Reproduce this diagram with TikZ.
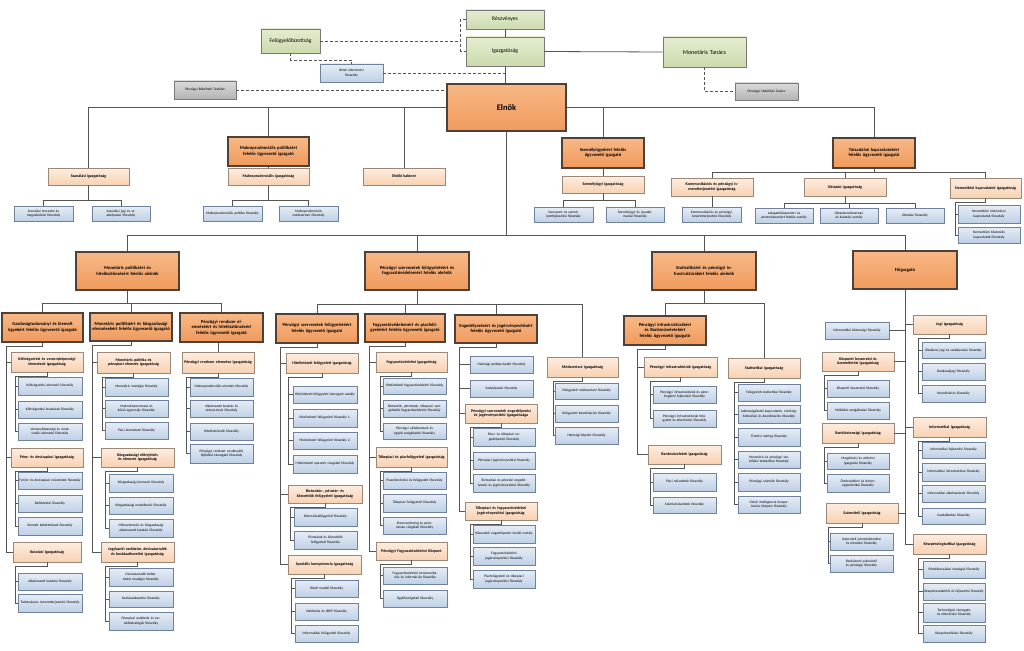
\documentclass[tikz,border=0pt]{standalone}
\usepackage{fontspec}
\setmainfont{Carlito}
\usetikzlibrary{shadows}
\definecolor{cLn}{HTML}{555555}
\definecolor{cDash}{HTML}{555555}
\definecolor{oTop}{HTML}{F8B886}
\definecolor{oBot}{HTML}{F09A5C}
\definecolor{oBrd}{HTML}{4F4038}
\definecolor{pTop}{HTML}{FDEDE0}
\definecolor{pBot}{HTML}{F8D1B2}
\definecolor{pBrd}{HTML}{9C8878}
\definecolor{bTop}{HTML}{E6EDF6}
\definecolor{bBot}{HTML}{BFD0E6}
\definecolor{bBrd}{HTML}{6F819B}
\definecolor{gTop}{HTML}{E4EDD0}
\definecolor{gBot}{HTML}{CCDAAD}
\definecolor{gBrd}{HTML}{7A7A7A}
\definecolor{yTop}{HTML}{DADADA}
\definecolor{yBot}{HTML}{B4B4B4}
\tikzset{
  shd/.style={drop shadow={shadow xshift=0.8pt,shadow yshift=-0.8pt,opacity=0.3}},
  boxbase/.style={shd, align=center, inner xsep=0pt, inner ysep=0pt, line width=0.6pt},
  grn/.style={boxbase, top color=gTop, bottom color=gBot, draw=gBrd, font=\fontsize{5.6}{6.6}\selectfont},
  gry/.style={boxbase, top color=yTop, bottom color=yBot, draw=gBrd, font=\fontsize{3.5}{4.2}\selectfont},
  boss/.style={boxbase, top color=oTop, bottom color=oBot, draw=oBrd, line width=1.2pt, font=\fontsize{8.5}{9.5}\selectfont\bfseries},
  org/.style={boxbase, top color=oTop, bottom color=oBot, draw=oBrd, line width=1.2pt, font=\fontsize{4.6}{5.5}\selectfont\bfseries},
  pch/.style={boxbase, top color=pTop, bottom color=pBot, draw=pBrd, font=\fontsize{4}{4.8}\selectfont\bfseries},
  blu/.style={boxbase, top color=bTop, bottom color=bBot, draw=bBrd, font=\fontsize{3.55}{4.2}\selectfont},
  ln/.style={draw=cLn, line width=0.8pt},
  dl/.style={draw=cDash, line width=0.8pt, dash pattern=on 3pt off 2pt}
}
\newcommand\bx[7]{%
  \pgfmathsetmacro\bw{#4-#2}%
  \pgfmathsetmacro\bh{#5-#3}%
  \pgfmathsetmacro\btw{#4-#2-2.5}%
  \node[#6, minimum width=\bw pt, minimum height=\bh pt, text width=\btw pt] (#1) at ({(#2+#4)/2},{(#3+#5)/2}) {#7};}
\newcommand\spine[3]{%
  \coordinate (sp) at (#2,0);%
  \foreach \c in {#3}{\draw[ln] (#1.south) -- ++(0,4) -| (sp |- \c.west) -- (\c.west);}}
\newcommand\bus[3]{%
  \foreach \c in {#3}{\draw[ln] (#1.south) -- ++(0,#2) -| (\c.north);}}
\begin{document}
\begin{tikzpicture}[x=1pt,y=-1pt]
\fill[white] (0,0) rectangle (1024,650);
\useasboundingbox (0,0) rectangle (1024,650);

% ---------- top
\bx{resz}{466}{10}{544}{29}{grn}{Részvényes}
\bx{igaz}{466}{37}{544}{66}{grn}{Igazgatóság}
\bx{fb}{261}{29}{320}{53}{grn}{Felügyelőbizottság}
\bx{mt}{663}{37}{746}{67}{grn}{\fontsize{6}{7}\selectfont Monetáris Tanács}
\bx{belso}{320}{64}{383}{82}{blu}{Belső ellenőrzési\\főosztály}
\bx{pbt}{174}{81}{236}{99}{gry}{Pénzügyi Békéltető Testület}
\bx{pst}{735}{83}{798}{100}{gry}{Pénzügyi Stabilitási Tanács}

% ---------- row 2
\bx{szan}{48}{168}{129}{185}{pch}{Szanálási igazgatóság}
\bx{szan1}{14}{206}{73}{221}{blu}{Szanálási tervezési és megvalósítási főosztály}
\bx{szan2}{92}{206}{150}{221}{blu}{Szanálási jogi és szabályozási főosztály}
\bx{mpu}{228}{137}{309}{166}{org}{Makroprudenciális politikáért felelős ügyvezető igazgató}
\bx{mpi}{228}{168}{309}{185}{pch}{Makroprudenciális igazgatóság}
\bx{mp1}{203}{206}{262}{221}{blu}{Makroprudenciális politika főosztály}
\bx{mp2}{279}{206}{338}{221}{blu}{Makroprudenciális módszertani főosztály}
\bx{ek}{363}{168}{445}{185}{pch}{Elnöki kabinet}
\bx{szu}{562}{138}{644}{168}{org}{Személyügyekért felelős ügyvezető igazgató}
\bx{szi}{562}{176}{644}{193}{pch}{Személyügyi igazgatóság}
\bx{sz1}{534}{207}{593}{222}{blu}{Szervezet- és személyzetfejlesztési főosztály}
\bx{sz2}{606}{207}{664}{222}{blu}{Személyügyi és javadalmazási főosztály}
\bx{tku}{833}{138}{915}{168}{org}{Társadalmi kapcsolatokért felelős ügyvezető igazgató}
\bx{kom}{671}{178}{753}{196}{pch}{Kommunikációs és pénzügyi ismeretterjesztési igazgatóság}
\bx{kom1}{682}{207}{741}{222}{blu}{Kommunikációs és pénzügyi ismeretterjesztési főosztály}
\bx{okt}{804}{178}{886}{196}{pch}{Oktatási igazgatóság}
\bx{okt1}{755}{208}{813}{223}{blu}{Látogatóközpontért és pénzmúzeumért felelős osztály}
\bx{okt2}{820}{208}{878}{223}{blu}{Oktatásmódszertani és kutatási osztály}
\bx{okt3}{886}{208}{944}{223}{blu}{Oktatási főosztály}
\bx{nk}{950}{178}{1021}{198}{pch}{Nemzetközi kapcsolatok igazgatóság}
\bx{nk1}{958}{205}{1020}{223}{blu}{Nemzetközi intézményi kapcsolatok főosztály}
\bx{nk2}{958}{227}{1020}{243}{blu}{Nemzetközi bilaterális kapcsolatok főosztály}

% ---------- row 3
\bx{amon}{76}{252}{179}{290}{org}{Monetáris politikáért és hitelösztönzésért felelős alelnök}
\bx{apsz}{365}{252}{469}{290}{org}{Pénzügyi szervezetek felügyeletéért és fogyasztóvédelemért felelős alelnök}
\bx{astat}{652}{252}{756}{290}{org}{Statisztikáért és pénzügyi infrastruktúrákért felelős alelnök}
\bx{fo}{853}{251}{957}{289}{org}{Főigazgató}

% ---------- Monetáris alelnök
\bx{gazu}{2}{313}{83}{342}{org}{Gazdaságtudományi és kiemelt ügyekért felelős ügyvezető igazgató}
\bx{kvi}{11}{352}{83}{372}{pch}{Költségvetési és versenyképességi elemzések igazgatóság}
\bx{kv1}{18}{377}{82}{395}{blu}{Költségvetési elemzési főosztály}
\bx{kv2}{18}{401}{82}{418}{blu}{Költségvetési kutatások főosztály}
\bx{kv3}{18}{423}{82}{440}{blu}{Versenyképességi és strukturális elemzési főosztály}
\bx{pdi}{11}{448}{83}{467}{pch}{Pénz- és devizapiaci igazgatóság}
\bx{pd1}{18}{472}{82}{489}{blu}{Forint- és devizapiaci műveletek főosztály}
\bx{pd2}{18}{495}{82}{512}{blu}{Befektetési főosztály}
\bx{pd3}{18}{517}{82}{535}{blu}{Kiemelt befektetések főosztály}
\bx{kti}{13}{542}{81}{562}{pch}{Kutatási igazgatóság}
\bx{kt1}{18}{573}{82}{590}{blu}{Alkalmazott kutatási főosztály}
\bx{kt2}{18}{594}{82}{612}{blu}{Tudományos ismeretterjesztési főosztály}

\bx{monu}{90}{313}{172}{341}{org}{Monetáris politikáért és közgazdasági elemzésekért felelős ügyvezető igazgató}
\bx{mpe}{97}{352}{170}{373}{pch}{Monetáris politika és pénzpiaci elemzés igazgatóság}
\bx{mpe1}{105}{378}{168}{396}{blu}{Monetáris stratégia főosztály}
\bx{mpe2}{105}{400}{168}{417}{blu}{Makrofinanszírozás és külső egyensúly főosztály}
\bx{mpe3}{105}{422}{168}{439}{blu}{Piaci elemzések főosztály}
\bx{kge}{101}{448}{174}{467}{pch}{Közgazdasági előrejelzés és elemzés igazgatóság}
\bx{kge1}{109}{474}{173}{492}{blu}{Közgazdasági elemzési főosztály}
\bx{kge2}{109}{497}{173}{514}{blu}{Közgazdasági modellezési főosztály}
\bx{kge3}{109}{519}{173}{537}{blu}{Mikroelemzési és közgazdasági alkalmazott kutatási főosztály}
\bx{jbe}{101}{542}{174}{562}{pch}{Jegybanki eszköztár, devizatartalék és kockázatkezelési igazgatóság}
\bx{jbe1}{109}{568}{173}{586}{blu}{Devizatartalék befektetési stratégia főosztály}
\bx{jbe2}{109}{591}{173}{607}{blu}{Kockázatkezelési főosztály}
\bx{jbe3}{109}{612}{173}{630}{blu}{Pénzpiaci eszköztár és tartalékstratégiai főosztály}

\bx{pru}{180}{313}{263}{342}{org}{Pénzügyi rendszer elemzéséért és hitelösztönzésért felelős ügyvezető igazgató}
\bx{pri}{182}{352}{254}{373}{pch}{Pénzügyi rendszer elemzése igazgatóság}
\bx{pr1}{190}{378}{253}{396}{blu}{Makroprudenciális elemzés főosztály}
\bx{pr2}{190}{400}{253}{417}{blu}{Alkalmazott kutatás és stressz-teszt főosztály}
\bx{pr3}{190}{423}{253}{440}{blu}{Hitelösztönzők főosztály}
\bx{pr4}{190}{444}{253}{463}{blu}{Pénzügyi rendszer strukturális fejlődést támogató főosztály}

% ---------- PSZ alelnök
\bx{pszu}{276}{314}{358}{343}{org}{Pénzügyi szervezetek felügyeletéért felelős ügyvezető igazgató}
\bx{hfi}{286}{353}{358}{373}{pch}{Hitelintézeti felügyeleti igazgatóság}
\bx{hf1}{293}{386}{357}{403}{blu}{Hitelintézeti felügyeleti támogató osztály}
\bx{hf2}{293}{409}{357}{427}{blu}{Hitelintézeti felügyeleti főosztály 1.}
\bx{hf3}{293}{432}{357}{449}{blu}{Hitelintézeti felügyeleti főosztály 2.}
\bx{hf4}{293}{455}{357}{473}{blu}{Hitelintézeti operatív vizsgálati főosztály}
\bx{bpk}{288}{485}{362}{503}{pch}{Biztosítás-, pénztár- és közvetítők felügyeleti igazgatóság}
\bx{bpk1}{294}{508}{357}{526}{blu}{Biztosításfelügyeleti főosztály}
\bx{bpk2}{294}{531}{357}{549}{blu}{Pénztárak és közvetítők felügyeleti főosztály}
\bx{ski}{288}{555}{361}{574}{pch}{Speciális kompetencia igazgatóság}
\bx{sk1}{295}{580}{358}{597}{blu}{Üzleti modell főosztály}
\bx{sk2}{295}{603}{358}{620}{blu}{Validációs és SREP főosztály}
\bx{sk3}{295}{625}{358}{642}{blu}{Informatikai felügyeleti főosztály}

\bx{fvu}{365}{314}{445}{342}{org}{Fogyasztóvédelemért és piacfelügyeletért felelős ügyvezető igazgató}
\bx{fvi}{376}{352}{447}{372}{pch}{Fogyasztóvédelmi igazgatóság}
\bx{fv1}{383}{378}{446}{394}{blu}{Hitelintézeti fogyasztóvédelmi főosztály}
\bx{fv2}{383}{400}{446}{417}{blu}{Biztosítók, pénztárak, tőkepiaci szolgáltatók fogyasztóvédelmi főosztály}
\bx{fv3}{383}{423}{446}{439}{blu}{Pénzügyi vállalkozások és egyéb szolgáltatók főosztály}
\bx{tpi}{376}{447}{447}{467}{pch}{Tőkepiaci és piacfelügyeleti igazgatóság}
\bx{tp1}{383}{472}{446}{489}{blu}{Piacellenőrzési és felügyeleti főosztály}
\bx{tp2}{383}{494}{446}{512}{blu}{Tőkepiaci felügyeleti főosztály}
\bx{tp3}{383}{517}{446}{534}{blu}{Piacmonitoring és pénzmosás vizsgálati főosztály}
\bx{pfk}{376}{542}{447}{560}{pch}{Pénzügyi Fogyasztóvédelmi Központ}
\bx{pf1}{383}{567}{447}{584}{blu}{Fogyasztóvédelmi kommunikációs és információs főosztály}
\bx{pf2}{383}{590}{447}{607}{blu}{Ügyfélszolgálati főosztály}

\bx{engu}{455}{315}{537}{343}{org}{Engedélyezésért és jogérvényesítésért felelős ügyvezető igazgató}
\bx{eng1}{470}{356}{533}{373}{blu}{Hatósági perképviseleti főosztály}
\bx{eng2}{470}{380}{533}{397}{blu}{Szabályozási főosztály}
\bx{pse}{465}{404}{537}{423}{pch}{Pénzügyi szervezetek engedélyezési és jogérvényesítési igazgatósága}
\bx{pse1}{473}{428}{535}{446}{blu}{Pénz- és tőkepiaci engedélyezési főosztály}
\bx{pse2}{473}{452}{535}{469}{blu}{Pénzpiaci jogérvényesítési főosztály}
\bx{pse3}{473}{474}{535}{492}{blu}{Biztosítási és pénztári engedélyezési és jogérvényesítési főosztály}
\bx{tfj}{465}{502}{537}{520}{pch}{Tőkepiaci és fogyasztóvédelmi jogérvényesítési igazgatóság}
\bx{tfj1}{473}{525}{535}{543}{blu}{Kibocsátói engedélyezési önálló osztály}
\bx{tfj2}{473}{547}{535}{565}{blu}{Fogyasztóvédelmi jogérvényesítési főosztály}
\bx{tfj3}{473}{570}{535}{588}{blu}{Piacfelügyeleti és tőkepiaci jogérvényesítési főosztály}

\bx{msz}{547}{357}{618}{377}{pch}{Módszertani igazgatóság}
\bx{msz1}{555}{383}{618}{399}{blu}{Felügyeleti módszertani főosztály}
\bx{msz2}{555}{405}{618}{422}{blu}{Felügyeleti koordinációs főosztály}
\bx{msz3}{555}{427}{618}{444}{blu}{Hatósági képzési főosztály}

% ---------- Statisztikai alelnök
\bx{piu}{624}{316}{706}{345}{org}{Pénzügyi infrastruktúrákért és Bankműveletekért felelős ügyvezető igazgató}
\bx{pii}{644}{357}{717}{377}{pch}{Pénzügyi infrastruktúrák igazgatóság}
\bx{pii1}{653}{386}{716}{403}{blu}{Pénzügyi infrastruktúrák és pénzforgalmi fejlesztési főosztály}
\bx{pii2}{653}{410}{716}{427}{blu}{Pénzügyi infrastruktúrák felügyelet és ellenőrzési főosztály}
\bx{bmi}{648}{445}{721}{464}{pch}{Bankműveletek igazgatóság}
\bx{bmi1}{653}{473}{716}{491}{blu}{Piaci műveletek főosztály}
\bx{bmi2}{653}{497}{716}{513}{blu}{Számlaműveletek főosztály}
\bx{sti}{728}{358}{800}{378}{pch}{Statisztikai igazgatóság}
\bx{st1}{738}{384}{800}{401}{blu}{Felügyeleti statisztikai főosztály}
\bx{st2}{738}{405}{800}{423}{blu}{Adatszolgáltatói kapcsolatok, minőségbiztosítási és koordinációs főosztály}
\bx{st3}{738}{428}{800}{446}{blu}{Fizetési mérleg főosztály}
\bx{st4}{738}{451}{800}{468}{blu}{Monetáris és pénzügyi stabilitási statisztikai főosztály}
\bx{st5}{738}{473}{800}{491}{blu}{Pénzügyi számlák főosztály}
\bx{st6}{738}{496}{800}{513}{blu}{Üzleti intelligencia kompetencia központ főosztály}

% ---------- Főigazgató
\bx{jogi}{913}{315}{986}{334}{pch}{Jogi igazgatóság}
\bx{jogi1}{922}{342}{985}{358}{blu}{Általános jogi és szabályozási főosztály}
\bx{jogi2}{922}{363}{985}{380}{blu}{Bankszakjogi főosztály}
\bx{jogi3}{922}{385}{985}{402}{blu}{Koordinációs főosztály}
\bx{ibf}{825}{322}{889}{339}{blu}{Informatikai biztonsági főosztály}
\bx{kbu}{822}{352}{894}{371}{pch}{Központi beszerzési és üzemeltetési igazgatóság}
\bx{kbu1}{827}{380}{889}{397}{blu}{Központi beszerzési főosztály}
\bx{kbu2}{827}{402}{889}{419}{blu}{Működés szolgáltatási főosztály}
\bx{bbi}{822}{423}{894}{443}{pch}{Bankbiztonsági igazgatóság}
\bx{bbi1}{827}{453}{889}{469}{blu}{Megelőzési és védelmi igazgatási főosztály}
\bx{bbi2}{827}{474}{889}{492}{blu}{Őrzésvédelmi és biztonságtechnikai főosztály}
\bx{ifi}{913}{417}{986}{437}{pch}{Informatikai igazgatóság}
\bx{ifi1}{922}{442}{985}{458}{blu}{Informatikai fejlesztési főosztály}
\bx{ifi2}{922}{463}{985}{481}{blu}{Informatikai infrastruktúra főosztály}
\bx{ifi3}{922}{485}{985}{502}{blu}{Informatikai alkalmazások főosztály}
\bx{ifi4}{922}{508}{985}{524}{blu}{Gazdálkodási főosztály}
\bx{szv}{826}{503}{898}{523}{pch}{Számviteli igazgatóság}
\bx{szv1}{830}{533}{893}{550}{blu}{Számviteli jelentéskészítési és elemzési főosztály}
\bx{szv2}{830}{555}{893}{572}{blu}{Banküzemi számviteli és pénzügyi főosztály}
\bx{kpl}{913}{534}{986}{554}{pch}{Készpénzlogisztikai igazgatóság}
\bx{kpl1}{923}{561}{985}{578}{blu}{Pénzkibocsátási stratégiai főosztály}
\bx{kpl2}{923}{583}{985}{600}{blu}{Készpénzszakértői és fejlesztési főosztály}
\bx{kpl3}{923}{603}{985}{622}{blu}{Technológiai támogató és ellenőrzési főosztály}
\bx{kpl4}{923}{625}{985}{642}{blu}{Készpénzellátási főosztály}

% ================= connectors =================
% top
\draw[ln] (resz.south) -- (igaz.north);
\draw[ln] (igaz.east) -- (mt.west);
\draw[dl] (resz.west) -- ++(-5,0) coordinate (brk) |- (igaz.west);
\draw[dl] (fb.east) -- (fb.east -| brk);
\draw[dl] (fb.south) -- ++(0,7) -| (belso.north);
\draw[dl] (mt.south) |- (pst.west);

\bx{elnok}{447}{84}{566}{131}{boss}{Elnök}
\draw[ln] (igaz.south) -- (igaz.south |- elnok.north);
\draw[dl] (belso.east) -- (belso.east -| igaz.south);
\draw[dl] (pbt.east) -- (pbt.east -| elnok.west);

% Elnök bus
\foreach \c in {szan,mpu,ek}{\draw[ln] (elnok.west) -| (\c.north);}
\foreach \c in {szu,tku}{\draw[ln] (elnok.east) -| (\c.north);}
\bus{szan}{15}{szan1,szan2}
\draw[ln] (mpu.south) -- (mpi.north);
\bus{mpi}{15}{mp1,mp2}
\draw[ln] (szu.south) -- (szi.north);
\bus{szi}{7}{sz1,sz2}
\bus{tku}{4}{kom,okt,nk}
\draw[ln] (kom.south) -- (kom.south |- kom1.north);
\bus{okt}{7}{okt1,okt2,okt3}
\spine{nk}{955}{nk1,nk2}

% lower bus
\bus{elnok}{104}{amon,apsz,astat,fo}
\bus{amon}{13}{gazu,monu,pru}
\bus{apsz}{14}{pszu,fvu,engu,msz}
\bus{astat}{13}{piu,sti}

% Monetáris
\spine{gazu}{6}{kvi,pdi,kti}
\spine{kvi}{15}{kv1,kv2,kv3}
\spine{pdi}{15}{pd1,pd2,pd3}
\spine{kti}{15}{kt1,kt2}
\spine{monu}{92}{mpe,kge,jbe}
\spine{mpe}{102}{mpe1,mpe2,mpe3}
\spine{kge}{105}{kge1,kge2,kge3}
\spine{jbe}{105}{jbe1,jbe2,jbe3}
\draw[ln] (pri.north) -- (pri.north |- pru.south);
\spine{pri}{186}{pr1,pr2,pr3,pr4}

% PSZ
\spine{pszu}{280}{hfi,bpk,ski}
\spine{hfi}{288}{hf1,hf2,hf3,hf4}
\spine{bpk}{290}{bpk1,bpk2}
\spine{ski}{291}{sk1,sk2,sk3}
\spine{fvu}{369}{fvi,tpi,pfk}
\spine{fvi}{380}{fv1,fv2,fv3}
\spine{tpi}{380}{tp1,tp2,tp3}
\spine{pfk}{380}{pf1,pf2}
\spine{engu}{459}{eng1,eng2,pse,tfj}
\spine{pse}{470}{pse1,pse2,pse3}
\spine{tfj}{470}{tfj1,tfj2,tfj3}
\spine{msz}{553}{msz1,msz2,msz3}

% Statisztika
\spine{piu}{637}{pii,bmi}
\spine{pii}{650}{pii1,pii2}
\spine{bmi}{650}{bmi1,bmi2}
\spine{sti}{734}{st1,st2,st3,st4,st5,st6}

% Főigazgató
\foreach \c in {jogi,ifi,kpl}{\draw[ln] (fo.south) |- (\c.west);}
\foreach \c in {ibf,kbu,bbi,szv}{\draw[ln] (fo.south) |- (\c.east);}
\spine{jogi}{918}{jogi1,jogi2,jogi3}
\spine{kbu}{824}{kbu1,kbu2}
\spine{bbi}{824}{bbi1,bbi2}
\spine{ifi}{918}{ifi1,ifi2,ifi3,ifi4}
\spine{szv}{828}{szv1,szv2}
\spine{kpl}{918}{kpl1,kpl2,kpl3,kpl4}
\end{tikzpicture}
\end{document}
